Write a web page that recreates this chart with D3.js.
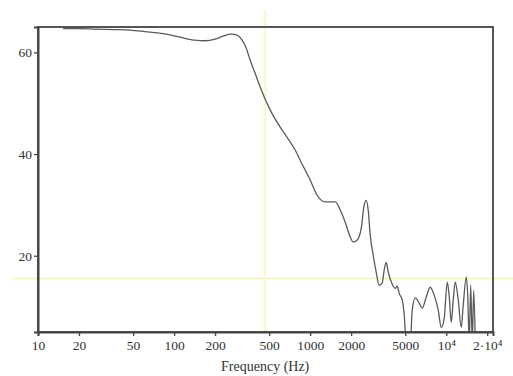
<!DOCTYPE html>
<html>
<head>
<meta charset="utf-8">
<script src="https://cdn.jsdelivr.net/npm/d3@7"></script>
<style>
  html, body { margin: 0; padding: 0; background: #fff; }
  svg { display: block; }
  .tick text { font-family: "Liberation Serif", "DejaVu Serif", serif; }
</style>
</head>
<body>
<svg id="chart" width="513" height="376"></svg>
<script>
// Magnitude response (dB) sampled at these frequencies (Hz)
const freqHz = [
  15.3, 20.4, 26.2, 36.8, 47.4, 61.2, 83, 110.7, 142.6, 169, 200, 229, 262, 290,
  316, 338, 362, 394, 429, 467, 508, 602, 677, 776, 844, 1000, 1125, 1288, 1527,
  1663, 1809, 1968, 2070, 2216, 2371, 2495, 2582, 2669, 2761, 2904, 3055, 3214,
  3381, 3499, 3620, 3746, 4009, 4218, 4365, 4511, 4746, 4911, 5081, 5436, 5623,
  5916, 6325, 6663, 7127, 7622, 8163, 8730, 9185, 9662, 10170, 10520, 10880,
  11250, 11640, 12250, 12880, 13330, 14030, 14380, 14750, 15130, 15520, 15920, 16330
];
const levelDb = [
  64.7, 64.7, 64.6, 64.5, 64.4, 64.1, 63.7, 63.0, 62.4, 62.3, 62.6, 63.2, 63.6, 63.4,
  62.4, 60.9, 58.5, 55.9, 53.2, 50.8, 48.7, 45.3, 43.3, 40.8, 38.8, 34.9, 31.9, 30.6, 30.6,
  29.0, 26.6, 23.7, 22.7, 23.1, 25.4, 30.0, 30.9, 29.0, 24.1, 20.1, 16.8, 14.2,
  14.6, 17.2, 18.7, 16.8, 14.4, 13.6, 14.0, 12.6, 11.3, 8.3, 3.0, 3.0, 9.3,
  11.7, 10.7, 9.7, 11.9, 13.8, 12.2, 9.3, 5.9, 7.7, 14.8, 11.9, 6.9,
  11.3, 14.8, 11.3, 5.9, 10.3, 15.8, 12.2, 3.0, 14.2, 3.0, 13.2, 3.0
];

// Axis settings
const xDomain = [10, 22050];
const yDomain = [5, 65];
const xTickValues = [10, 20, 50, 100, 200, 500, 1000, 2000, 5000, 10000, 20000];
const xTickLabels = ["10", "20", "50", "100", "200", "500", "1000", "2000", "5000", "10⁴", "2·10⁴"];
const yTickValues = [20, 40, 60];
const xTitle = "Frequency (Hz)";

// Cursor position
const cursorHz = [467];
const cursorDb = [15.5];

const W = 513, H = 376;
const m = { left: 38, right: 20, top: 27, bottom: 44 };
const iw = W - m.left - m.right, ih = H - m.top - m.bottom;

const svg = d3.select("#chart");
const x = d3.scaleLog().domain(xDomain).range([m.left, m.left + iw]);
const y = d3.scaleLinear().domain(yDomain).range([m.top + ih, m.top]);

// Cursor crosshair (drawn beneath everything else)
const cur = svg.append("g");
cursorHz.forEach(f => {
  cur.append("line").attr("x1", x(f)).attr("x2", x(f)).attr("y1", 10).attr("y2", m.top + ih)
    .attr("stroke", "#fcfce8").attr("stroke-width", 4);
  cur.append("line").attr("x1", x(f)).attr("x2", x(f)).attr("y1", 10).attr("y2", m.top + ih)
    .attr("stroke", "#f2f2c4").attr("stroke-width", 1);
});
cursorDb.forEach(v => {
  cur.append("line").attr("x1", 12).attr("x2", W).attr("y1", y(v)).attr("y2", y(v))
    .attr("stroke", "#fcfce8").attr("stroke-width", 4);
  cur.append("line").attr("x1", 12).attr("x2", W).attr("y1", y(v)).attr("y2", y(v))
    .attr("stroke", "#f2f2c4").attr("stroke-width", 1);
});

// Curve, clipped to the plot box
svg.append("clipPath").attr("id", "plotclip").append("rect")
  .attr("x", m.left).attr("y", m.top).attr("width", iw).attr("height", ih);

const pts = freqHz.map((f, i) => [f, levelDb[i]]);
const line = d3.line().x(d => x(d[0])).y(d => y(d[1])).curve(d3.curveMonotoneX);
svg.append("path").datum(pts).attr("clip-path", "url(#plotclip)")
  .attr("d", line).attr("fill", "none").attr("stroke", "#5a5a5a").attr("stroke-width", 1.3);

// Frame
svg.append("rect").attr("x", m.left).attr("y", m.top).attr("width", iw).attr("height", ih)
  .attr("fill", "none").attr("stroke", "#444").attr("stroke-width", 1.8);

// Axes
const xAxis = d3.axisBottom(x).tickValues(xTickValues).tickSize(4).tickPadding(4)
  .tickFormat((d, i) => xTickLabels[i]);
const gx = svg.append("g").attr("transform", `translate(0,${m.top + ih})`).call(xAxis);
const yAxis = d3.axisLeft(y).tickValues(yTickValues).tickSize(4).tickPadding(2);
const gy = svg.append("g").attr("transform", `translate(${m.left},0)`).call(yAxis);

[gx, gy].forEach(g => {
  g.select(".domain").attr("stroke", "#444").attr("stroke-width", 2);
  g.selectAll(".tick line").attr("stroke", "#444").attr("stroke-width", 1.3);
  g.selectAll(".tick text").attr("fill", "#333").style("font-size", "13.5px");
});

svg.append("text").attr("x", x(467)).attr("y", 371)
  .attr("text-anchor", "middle")
  .style("font-family", "'Liberation Serif', 'DejaVu Serif', serif")
  .style("font-size", "14px").attr("fill", "#333")
  .text(xTitle);
</script>
</body>
</html>
